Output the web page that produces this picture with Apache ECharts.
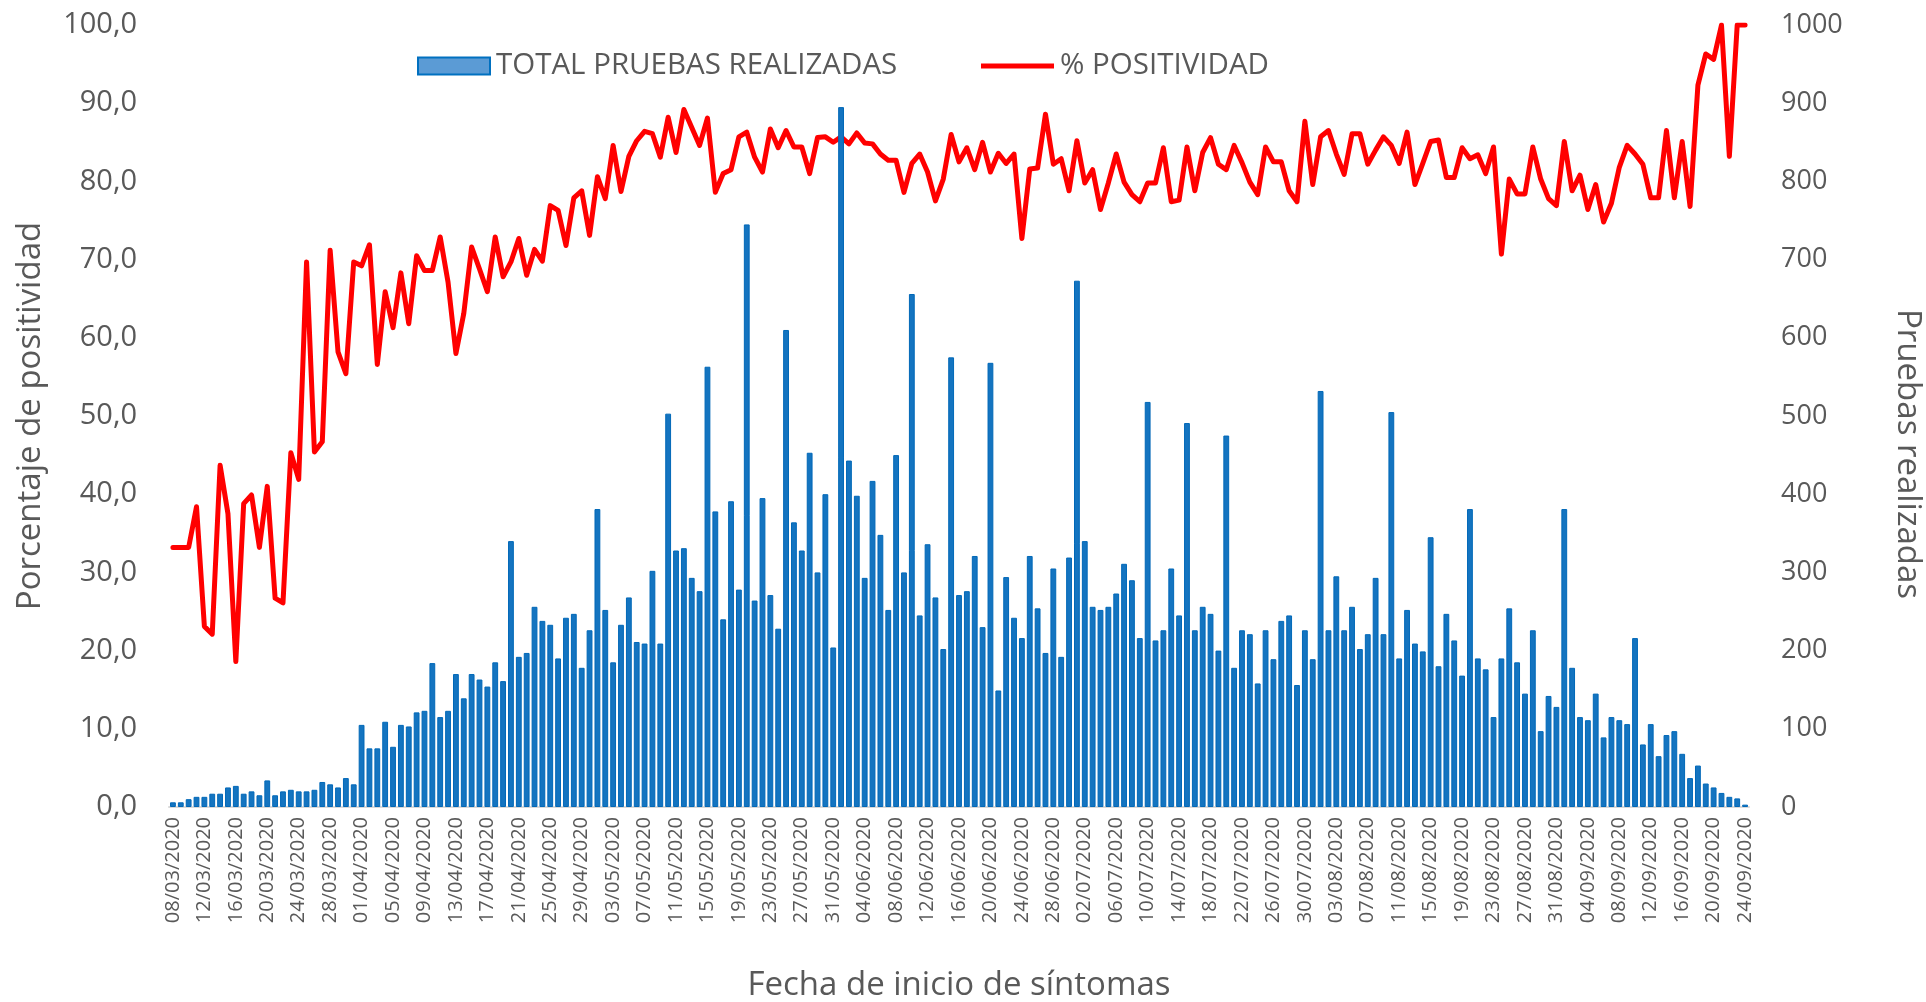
<!DOCTYPE html>
<html>
<head>
<meta charset="utf-8">
<script src="https://cdn.jsdelivr.net/npm/echarts@6/dist/echarts.min.js"></script>
<style>
html,body{margin:0;padding:0;background:#fff;}
#chart{width:1926px;height:1002px;}
</style>
</head>
<body>
<div id="chart"></div>
<script>
// Categories: daily dates from 08/03/2020 to 24/09/2020 (201 days)
const startDate = [2020, 3, 8];
const dayCount = 201;
const categories = [];
for (let i = 0; i < dayCount; i++) {
  const d = new Date(Date.UTC(startDate[0], startDate[1] - 1, startDate[2] + i));
  const dd = String(d.getUTCDate()).padStart(2, '0');
  const mm = String(d.getUTCMonth() + 1).padStart(2, '0');
  categories.push(dd + '/' + mm + '/' + d.getUTCFullYear());
}

// TOTAL PRUEBAS REALIZADAS (right axis)
const pruebas = [
  6, 6, 10, 13, 13, 17, 17, 25, 27, 17,
  20, 15, 34, 15, 20, 22, 20, 20, 22, 32,
  29, 25, 37, 29, 105, 75, 75, 109, 77, 105,
  103, 121, 123, 184, 115, 123, 170, 139, 170, 163,
  154, 185, 161, 340, 192, 197, 256, 238, 233, 190,
  242, 247, 178, 226, 381, 252, 185, 233, 268, 211,
  209, 302, 209, 503, 328, 331, 293, 276, 563, 378,
  240, 391, 278, 745, 264, 395, 271, 228, 610, 364,
  328, 453, 300, 400, 204, 895, 443, 398, 293, 417,
  348, 252, 450, 300, 656, 245, 336, 268, 202, 575,
  271, 276, 321, 230, 568, 149, 294, 242, 216, 321,
  254, 197, 305, 192, 319, 673, 340, 256, 252, 256,
  273, 311, 290, 216, 518, 213, 226, 305, 245, 491,
  226, 256, 247, 200, 475, 178, 226, 221, 158, 226,
  189, 238, 245, 156, 226, 189, 532, 226, 295, 226,
  256, 202, 221, 293, 221, 505, 190, 252, 209, 199,
  345, 180, 247, 213, 168, 381, 190, 176, 115, 190,
  254, 185, 145, 226, 97, 142, 128, 381, 178, 115,
  111, 145, 89, 115, 111, 106, 216, 80, 106, 65,
  92, 97, 68, 37, 53, 30, 25, 18, 13, 11,
  3
];

// % POSITIVIDAD (left axis)
const positividad = [
  33.2, 33.2, 33.2, 38.4, 23.1, 22.1, 43.7, 37.5, 18.6, 38.8,
  39.9, 33.2, 41.0, 26.7, 26.1, 45.3, 41.9, 69.7, 45.4, 46.7,
  71.2, 58.2, 55.4, 69.7, 69.2, 71.9, 56.6, 65.9, 61.3, 68.3,
  61.8, 70.5, 68.6, 68.6, 72.9, 67.1, 58.0, 63.1, 71.6, 68.8,
  65.9, 72.9, 67.8, 69.7, 72.7, 68.0, 71.3, 69.8, 76.9, 76.3,
  71.8, 77.9, 78.8, 73.1, 80.6, 77.8, 84.6, 78.7, 83.2, 85.2,
  86.4, 86.1, 83.1, 88.2, 83.7, 89.2, 86.9, 84.6, 88.1, 78.6,
  81.0, 81.5, 85.7, 86.3, 83.1, 81.2, 86.7, 84.3, 86.5, 84.4,
  84.4, 81.0, 85.6, 85.7, 85.0, 85.7, 84.8, 86.2, 84.9, 84.8,
  83.5, 82.7, 82.7, 78.6, 82.3, 83.5, 81.2, 77.5, 80.3, 86.0,
  82.5, 84.3, 81.5, 85.0, 81.2, 83.6, 82.3, 83.5, 72.7, 81.6,
  81.7, 88.6, 82.2, 82.9, 78.8, 85.2, 79.8, 81.5, 76.4, 79.8,
  83.5, 79.9, 78.3, 77.4, 79.8, 79.8, 84.3, 77.4, 77.6, 84.4,
  78.8, 83.7, 85.6, 82.2, 81.5, 84.6, 82.4, 79.9, 78.3, 84.4,
  82.5, 82.5, 78.8, 77.4, 87.7, 79.6, 85.7, 86.5, 83.5, 80.9,
  86.1, 86.1, 82.2, 84.0, 85.7, 84.6, 82.3, 86.3, 79.6, 82.3,
  85.1, 85.3, 80.5, 80.5, 84.3, 82.9, 83.4, 81.0, 84.4, 70.7,
  80.3, 78.4, 78.4, 84.4, 80.3, 77.8, 76.9, 85.1, 78.8, 80.8,
  76.4, 79.6, 74.8, 77.2, 81.8, 84.6, 83.5, 82.2, 77.9, 77.9,
  86.5, 77.9, 85.1, 76.8, 92.3, 96.3, 95.6, 100, 83.2, 100,
  100
];

const leftTicks = { min: 0, max: 100, interval: 10 };
const rightTicks = { min: 0, max: 1000, interval: 100 };

const FONT = '"Open Sans", sans-serif';
const GRAY = '#595959';

const chart = echarts.init(document.getElementById('chart'), null, { renderer: 'canvas' });
chart.setOption({
  animation: false,
  backgroundColor: '#ffffff',
  textStyle: { fontFamily: FONT },
  grid: { left: 169, right: 177, top: 25, bottom: 195, containLabel: false, outerBoundsMode: 'none' },
  legend: [
    {
      data: [{ name: 'TOTAL PRUEBAS REALIZADAS', icon: 'rect',
               itemStyle: { color: '#5B9BD5', borderColor: '#0070C0', borderWidth: 2 } }],
      left: 412, top: 46, itemWidth: 72, itemHeight: 17, itemGap: 8,
      textStyle: { fontFamily: FONT, fontSize: 29.5, color: GRAY, padding: [0, 0, 0, 1] }
    },
    {
      data: [{ name: '% POSITIVIDAD', icon: 'rect', itemStyle: { color: '#FF0000' } }],
      left: 976, top: 46, itemWidth: 73, itemHeight: 5,
      textStyle: { fontFamily: FONT, fontSize: 29.5, color: GRAY, padding: [0, 0, 0, 1] }
    }
  ],
  graphic: [
    {
      type: 'text',
      x: 1907, y: 454,
      rotation: -Math.PI / 2,
      style: {
        text: 'Pruebas realizadas',
        fontFamily: FONT, fontSize: 33, fill: GRAY,
        align: 'center', verticalAlign: 'middle'
      }
    }
  ],
  xAxis: {
    type: 'category',
    data: categories,
    boundaryGap: true,
    name: 'Fecha de inicio de síntomas',
    nameLocation: 'middle',
    nameGap: 162,
    nameTextStyle: { fontFamily: FONT, fontSize: 33, color: GRAY },
    axisLine: { show: true, lineStyle: { color: '#D9D9D9', width: 2 } },
    axisTick: { show: false },
    axisLabel: { interval: 3, rotate: 90, fontFamily: FONT, fontSize: 20, color: GRAY, margin: 10 },
    splitLine: { show: false }
  },
  yAxis: [
    {
      type: 'value',
      min: leftTicks.min, max: leftTicks.max, interval: leftTicks.interval,
      name: 'Porcentaje de positividad',
      nameLocation: 'middle',
      nameGap: 122,
      nameRotate: 90,
      nameTextStyle: { fontFamily: FONT, fontSize: 33, color: GRAY },
      axisLine: { show: false },
      axisTick: { show: false },
      splitLine: { show: false },
      axisLabel: {
        fontFamily: FONT, fontSize: 29, color: GRAY, margin: 32,
        formatter: v => v.toFixed(1).replace('.', ',')
      }
    },
    {
      type: 'value',
      min: rightTicks.min, max: rightTicks.max, interval: rightTicks.interval,
      axisLine: { show: false },
      axisTick: { show: false },
      splitLine: { show: false },
      axisLabel: { fontFamily: FONT, fontSize: 27, color: GRAY, margin: 32,
                   formatter: v => String(v) }
    }
  ],
  series: [
    {
      name: '% POSITIVIDAD',
      type: 'line',
      yAxisIndex: 0,
      data: positividad,
      symbol: 'none',
      lineStyle: { color: '#FF0000', width: 5, join: 'round', cap: 'round' },
      itemStyle: { color: '#FF0000' },
      z: 2
    },
    {
      name: 'TOTAL PRUEBAS REALIZADAS',
      type: 'bar',
      yAxisIndex: 1,
      data: pruebas,
      barCategoryGap: '26%',
      itemStyle: { color: '#1474C0', borderColor: '#0068B8', borderWidth: 1 },
      z: 3
    }
  ]
});
</script>
</body>
</html>
